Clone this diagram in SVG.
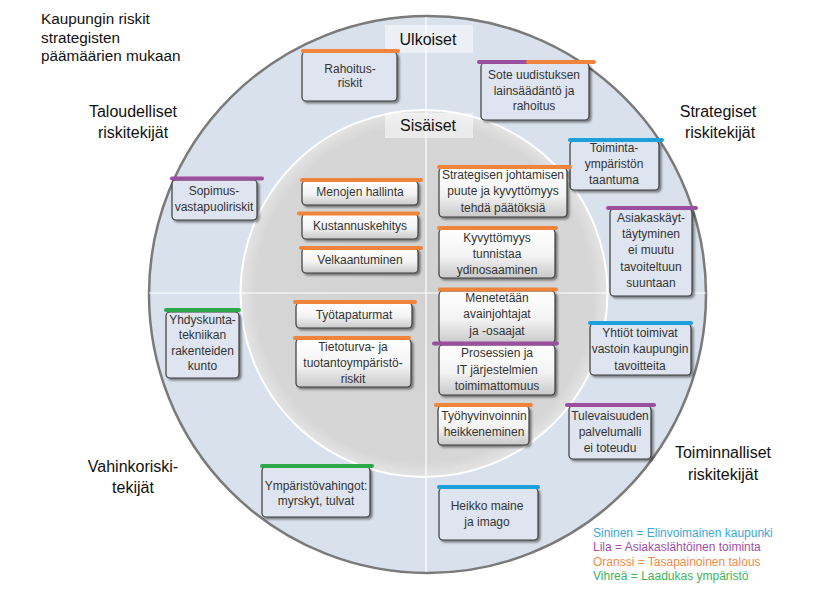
<svg xmlns="http://www.w3.org/2000/svg" width="835" height="591" viewBox="0 0 835 591">
<style>
.t{font-family:"Liberation Sans",Arial,sans-serif;font-size:12px;fill:#333;text-anchor:middle}
.h{font-family:"Liberation Sans",Arial,sans-serif;font-size:16px;fill:#111;text-anchor:middle}
.lg{font-family:"Liberation Sans",Arial,sans-serif;font-size:12px}
.ob{fill:#dfe5f0;stroke:#3a3a3a;stroke-width:1.2;filter:url(#sh)}
.ib{fill:url(#gi);stroke:#3a3a3a;stroke-width:1.2;filter:url(#sh)}
.bar{stroke-width:4;stroke-linecap:round;fill:none}
.o{stroke:#f0843c}.p{stroke:#9c4f9f}.b{stroke:#1ea0dc}.g{stroke:#2aa84a}
</style>
<defs>
<linearGradient id="gi" x1="0" y1="0" x2="0" y2="1">
<stop offset="0" stop-color="#ffffff"/><stop offset="0.55" stop-color="#f3f3f3"/><stop offset="1" stop-color="#c9c9c9"/>
</linearGradient>
<radialGradient id="gc" cx="0.5" cy="0.5" r="0.5">
<stop offset="0" stop-color="#d2d2d2"/><stop offset="0.92" stop-color="#d6d6d6"/><stop offset="1" stop-color="#e4e4e4"/>
</radialGradient>
<filter id="sh" x="-10%" y="-10%" width="130%" height="140%">
<feDropShadow dx="2" dy="2" stdDeviation="1" flood-color="#000" flood-opacity="0.45"/>
</filter>
</defs>
<rect width="835" height="591" fill="#fff"/>
<g id="background">
<circle cx="427.5" cy="294.5" r="278.5" fill="#d9e1ec" stroke="#7a7a7a" stroke-width="2.5"/>
<circle cx="424" cy="293.5" r="183.5" fill="url(#gc)" stroke="#ffffff" stroke-width="2"/>
</g>
<g id="connectors">
<line x1="426" y1="17" x2="426" y2="572" stroke="#ffffff" stroke-width="1.2"/>
<line x1="149" y1="293" x2="706" y2="293" stroke="#ffffff" stroke-width="1.2"/>
</g>
<g id="ulkoiset">
<rect x="385" y="25" width="88" height="28" fill="#ffffff" fill-opacity="0.5"/>
<text class="h" x="428" y="45">Ulkoiset</text>
</g>
<g id="sisaiset">
<rect x="385" y="113" width="88" height="25" fill="#ffffff" fill-opacity="0.5"/>
<text class="h" x="428" y="131">Sisäiset</text>
</g>
<g id="title">
<text style="font-family:'Liberation Sans',Arial,sans-serif;font-size:15.3px;fill:#111"><tspan x="41" y="24">Kaupungin riskit</tspan><tspan x="41" y="42.5">strategisten</tspan><tspan x="41" y="61">päämäärien mukaan</tspan></text>
</g>
<g id="taloudelliset"><text class="h"><tspan x="133" y="117">Taloudelliset</tspan><tspan x="133" y="138">riskitekijät</tspan></text></g>
<g id="strategiset"><text class="h"><tspan x="718" y="117">Strategiset</tspan><tspan x="720" y="138">riskitekijät</tspan></text></g>
<g id="vahinko"><text class="h"><tspan x="133" y="472">Vahinkoriski-</tspan><tspan x="133" y="493">tekijät</tspan></text></g>
<g id="toiminnalliset"><text class="h"><tspan x="723" y="458">Toiminnalliset</tspan><tspan x="723" y="480">riskitekijät</tspan></text></g>
<g id="legend" class="lg">
<text x="593" y="537" fill="#3aa8dc">Sininen = Elinvoimainen kaupunki</text>
<text x="593" y="551" fill="#a54ea8">Lila = Asiakaslähtöinen toiminta</text>
<text x="593" y="565.5" fill="#f08c48">Oranssi = Tasapainoinen talous</text>
<text x="593" y="580" fill="#3cb45a">Vihreä = Laadukas ympäristö</text>
</g>

<g id="n-rahoitus"><rect class="ob" x="302" y="52" width="95" height="49" rx="4"/><line class="bar o" x1="303" y1="51" x2="398" y2="51"/><text class="t"><tspan x="350" y="73">Rahoitus-</tspan><tspan x="350" y="87">riskit</tspan></text></g>
<g id="n-sote"><rect class="ob" x="481" y="63" width="108" height="57" rx="4"/><line class="bar p" x1="479" y1="62" x2="528" y2="62"/><line class="bar o" x1="528" y1="62" x2="594" y2="62"/><text class="t"><tspan x="534" y="79">Sote uudistuksen</tspan><tspan x="534" y="94.5">lainsäädäntö ja</tspan><tspan x="534" y="110">rahoitus</tspan></text></g>
<g id="n-toiminta"><rect class="ob" x="570" y="141" width="89" height="49" rx="4"/><line class="bar b" x1="570" y1="140" x2="662" y2="140"/><text class="t"><tspan x="614" y="152">Toiminta-</tspan><tspan x="614" y="168">ympäristön</tspan><tspan x="614" y="184">taantuma</tspan></text></g>
<g id="n-sopimus"><rect class="ob" x="172" y="180" width="85" height="40" rx="4"/><line class="bar p" x1="172" y1="178.5" x2="262" y2="178.5"/><text class="t"><tspan x="214" y="195">Sopimus-</tspan><tspan x="214" y="211">vastapuoliriskit</tspan></text></g>
<g id="n-menojen"><rect class="ib" x="302" y="181" width="116" height="24" rx="4"/><line class="bar o" x1="302" y1="180" x2="421" y2="180"/><text class="t" x="360" y="196">Menojen hallinta</text></g>
<g id="n-kustannus"><rect class="ib" x="302" y="214" width="116" height="25" rx="4"/><line class="bar o" x1="299" y1="213.5" x2="418" y2="213.5"/><text class="t" x="360" y="230">Kustannuskehitys</text></g>
<g id="n-velka"><rect class="ib" x="302" y="248" width="116" height="25" rx="4"/><line class="bar o" x1="301" y1="248" x2="421" y2="248"/><text class="t" x="360" y="264">Velkaantuminen</text></g>
<g id="n-tyotapaturmat"><rect class="ib" x="296" y="303" width="116" height="25" rx="4"/><line class="bar o" x1="295" y1="302" x2="415" y2="302"/><text class="t" x="354" y="318.5">Työtapaturmat</text></g>
<g id="n-tietoturva"><rect class="ib" x="296" y="339" width="115" height="48" rx="4"/><line class="bar o" x1="295" y1="338" x2="409" y2="338"/><text class="t"><tspan x="353" y="350.5">Tietoturva- ja</tspan><tspan x="353" y="366.5">tuotantoympäristö-</tspan><tspan x="353" y="382.5">riskit</tspan></text></g>
<g id="n-yhdyskunta"><rect class="ob" x="166" y="312" width="73" height="66" rx="4"/><line class="bar g" x1="166" y1="310" x2="239" y2="310"/><text class="t"><tspan x="202.5" y="323.5">Yhdyskunta-</tspan><tspan x="202.5" y="339">tekniikan</tspan><tspan x="202.5" y="354.5">rakenteiden</tspan><tspan x="202.5" y="370">kunto</tspan></text></g>
<g id="n-strategisen"><rect class="ib" x="439" y="168" width="128" height="49" rx="4"/><line class="bar o" x1="439" y1="167" x2="570" y2="167"/><text class="t"><tspan x="503" y="178.5">Strategisen johtamisen</tspan><tspan x="503" y="195">puute ja kyvyttömyys</tspan><tspan x="503" y="211.5">tehdä päätöksiä</tspan></text></g>
<g id="n-kyvyttomyys"><rect class="ib" x="439" y="229" width="116" height="49" rx="4"/><line class="bar o" x1="439" y1="228" x2="556" y2="228"/><text class="t"><tspan x="497" y="241.5">Kyvyttömyys</tspan><tspan x="497" y="257.5">tunnistaa</tspan><tspan x="497" y="273.5">ydinosaaminen</tspan></text></g>
<g id="n-menetetaan"><rect class="ib" x="439" y="291" width="116" height="52" rx="4"/><line class="bar o" x1="440" y1="289.5" x2="556" y2="289.5"/><text class="t"><tspan x="497" y="302">Menetetään</tspan><tspan x="497" y="318">avainjohtajat</tspan><tspan x="497" y="335">ja -osaajat</tspan></text></g>
<g id="n-prosessien"><rect class="ib" x="439" y="345" width="116" height="50" rx="4"/><line class="bar p" x1="434" y1="343.5" x2="557" y2="343.5"/><text class="t"><tspan x="497" y="357">Prosessien ja</tspan><tspan x="497" y="373.5">IT järjestelmien</tspan><tspan x="497" y="389.5">toimimattomuus</tspan></text></g>
<g id="n-tyohyvinvointi"><rect class="ib" x="438" y="406" width="91" height="39" rx="4"/><line class="bar o" x1="436" y1="405" x2="531" y2="405"/><text class="t"><tspan x="484" y="420">Työhyvinvoinnin</tspan><tspan x="484" y="436">heikkeneminen</tspan></text></g>
<g id="n-tulevaisuus"><rect class="ob" x="569" y="406" width="82" height="53" rx="4"/><line class="bar p" x1="567" y1="405" x2="654" y2="405"/><text class="t"><tspan x="610" y="419.5">Tulevaisuuden</tspan><tspan x="610" y="435.5">palvelumalli</tspan><tspan x="610" y="452">ei toteudu</tspan></text></g>
<g id="n-heikko"><rect class="ob" x="439" y="488" width="99" height="52" rx="4"/><line class="bar b" x1="439" y1="487" x2="538" y2="487"/><text class="t"><tspan x="487" y="509.5">Heikko maine</tspan><tspan x="487" y="526">ja imago</tspan></text></g>
<g id="n-ymparisto"><rect class="ob" x="262" y="467" width="108" height="50" rx="4"/><line class="bar g" x1="262" y1="466" x2="372" y2="466"/><text class="t"><tspan x="316" y="489.5">Ympäristövahingot:</tspan><tspan x="316" y="504.5">myrskyt, tulvat</tspan></text></g>
<g id="n-asiakas"><rect class="ob" x="610" y="209" width="82" height="87" rx="4"/><line class="bar p" x1="608" y1="208" x2="696" y2="208"/><text class="t"><tspan x="651" y="222">Asiakaskäyt-</tspan><tspan x="651" y="238">täytyminen</tspan><tspan x="651" y="254">ei muutu</tspan><tspan x="651" y="270.5">tavoiteltuun</tspan><tspan x="651" y="287">suuntaan</tspan></text></g>
<g id="n-yhtiot"><rect class="ob" x="590" y="324" width="101" height="51" rx="4"/><line class="bar b" x1="590" y1="323" x2="691" y2="323"/><text class="t"><tspan x="640" y="337">Yhtiöt toimivat</tspan><tspan x="640" y="353">vastoin kaupungin</tspan><tspan x="640" y="369.5">tavoitteita</tspan></text></g>
</svg>
